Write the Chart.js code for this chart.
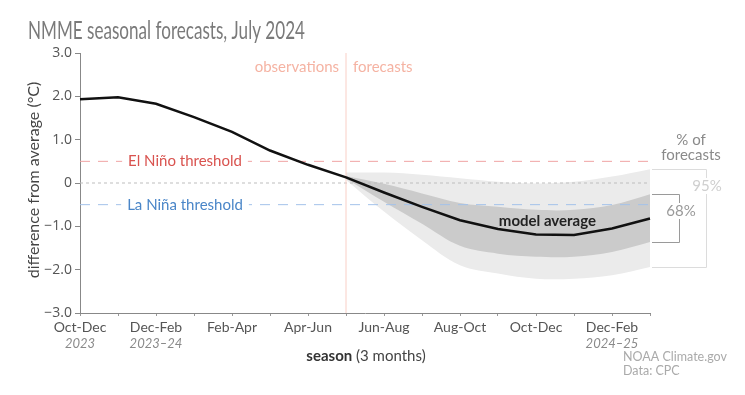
<!DOCTYPE html>
<html>
<head>
<meta charset="utf-8">
<script src="https://cdn.jsdelivr.net/npm/chart.js@4.4.1/dist/chart.umd.min.js"></script>
<style>
  html, body { margin: 0; padding: 0; background: #fff; }
  #wrap { width: 745px; height: 395px; position: relative; }
</style>
</head>
<body>
<div id="wrap"><canvas id="nmme" width="745" height="395"></canvas></div>
<script>
// seasons (3-month running), Oct-Dec 2023 .. Jan-Mar 2025
const seasons = ['Oct-Dec', 'Nov-Jan', 'Dec-Feb', 'Jan-Mar', 'Feb-Apr', 'Mar-May', 'Apr-Jun', 'May-Jul',
                 'Jun-Aug', 'Jul-Sep', 'Aug-Oct', 'Sep-Nov', 'Oct-Dec', 'Nov-Jan', 'Dec-Feb', 'Jan-Mar'];
const yearLabels = ['2023', '', '2023–24', '', '', '', '', '', '', '', '', '', '', '', '2024–25', ''];

// observed + model average (°C)
const modelAvg = [1.93, 1.98, 1.83, 1.52, 1.18, 0.75, 0.42, 0.13, -0.22, -0.55, -0.86, -1.06, -1.19, -1.20, -1.05, -0.82];
// spread of forecasts
const upper68 = [null, null, null, null, null, null, null, 0.16, -0.02, -0.24, -0.46, -0.55, -0.62, -0.62, -0.51, -0.26];
const lower68 = [null, null, null, null, null, null, null, 0.10, -0.43, -0.94, -1.45, -1.63, -1.70, -1.70, -1.59, -1.36];
const upper95 = [null, null, null, null, null, null, null, 0.24, 0.24, 0.19, 0.11, 0.03, -0.01, 0.03, 0.15, 0.32];
const lower95 = [null, null, null, null, null, null, null, 0.07, -0.66, -1.32, -1.90, -2.09, -2.21, -2.21, -2.13, -1.94];

const elNino = 0.5;
const laNina = -0.5;
const forecastStart = 7;   // May-Jul, first forecast season

const FONT = 'Lato, "Open Sans", sans-serif';

function fmtY(v) {
    if (v === 0) return '0';
    return (v < 0 ? '\u2212' : '') + Math.abs(v).toFixed(1);
}

// draws everything that isn't a dataset
const extras = {
    id: 'extras',
    afterDatasetDraw(chart, args) {
        if (args.index !== 1) return; // threshold lines go under the average line
        const {ctx, chartArea: a, scales: {x, y}} = chart;
        ctx.save();
        ctx.lineWidth = 1;
        // zero line
        ctx.strokeStyle = '#bdbdbd';
        ctx.setLineDash([3, 3]);
        ctx.beginPath();
        ctx.moveTo(a.left, y.getPixelForValue(0));
        ctx.lineTo(a.right, y.getPixelForValue(0));
        ctx.stroke();
        // thresholds
        ctx.setLineDash([10, 8]);
        ctx.strokeStyle = '#f0a3a3';
        ctx.beginPath();
        ctx.moveTo(a.left, y.getPixelForValue(elNino));
        ctx.lineTo(a.right, y.getPixelForValue(elNino));
        ctx.stroke();
        ctx.strokeStyle = '#a3c2ea';
        ctx.beginPath();
        ctx.moveTo(a.left, y.getPixelForValue(laNina));
        ctx.lineTo(a.right, y.getPixelForValue(laNina));
        ctx.stroke();
        ctx.setLineDash([]);

        // threshold labels on white
        ctx.font = '15px ' + FONT;
        ctx.textAlign = 'center';
        ctx.textBaseline = 'middle';
        const lx = 185;
        [['El Niño threshold', elNino, '#d9534f'], ['La Niña threshold', laNina, '#4a86c8']].forEach(([t, v, c]) => {
            const py = y.getPixelForValue(v);
            const w = ctx.measureText(t).width;
            ctx.fillStyle = '#fff';
            ctx.fillRect(lx - w / 2 - 6, py - 3, w + 12, 6);
            ctx.fillStyle = c;
            ctx.fillText(t, lx, py);
        });

        // observations | forecasts divider
        const vx = x.getPixelForValue(forecastStart);
        ctx.strokeStyle = '#f9cfc6';
        ctx.beginPath();
        ctx.moveTo(vx, a.top);
        ctx.lineTo(vx, a.bottom);
        ctx.stroke();
        ctx.fillStyle = '#f5b3a3';
        ctx.font = '15px ' + FONT;
        ctx.textAlign = 'right';
        ctx.fillText('observations', vx - 7, a.top + 14);
        ctx.textAlign = 'left';
        ctx.fillText('forecasts', vx + 7, a.top + 14);
        ctx.restore();
    },
    afterDraw(chart) {
        const {ctx, chartArea: a, scales: {x, y}} = chart;
        ctx.save();
        // title, squeezed to look like the condensed face of the original
        const title = 'NMME seasonal forecasts, July 2024';
        ctx.fillStyle = '#7a7a7a';
        ctx.font = '25px ' + FONT;
        ctx.textAlign = 'left';
        ctx.textBaseline = 'alphabetic';
        const tw = ctx.measureText(title).width;
        ctx.save();
        ctx.translate(28, 39);
        ctx.scale(277 / tw, 1);
        ctx.fillText(title, 0, 0);
        ctx.restore();

        // model average label
        ctx.fillStyle = '#222';
        ctx.font = 'bold 15px ' + FONT;
        ctx.textAlign = 'center';
        ctx.textBaseline = 'middle';
        ctx.fillText('model average', x.getPixelForValue(12.3), y.getPixelForValue(-0.88));

        // year sub labels
        ctx.font = 'italic 13px ' + FONT;
        ctx.fillStyle = '#8a8a8a';
        yearLabels.forEach((t, i) => {
            if (t) ctx.fillText(t, x.getPixelForValue(i), a.bottom + 31);
        });

        // x axis title
        ctx.font = 'bold 15px ' + FONT;
        const b = 'season';
        const r = ' (3 months)';
        const wb = ctx.measureText(b).width;
        ctx.font = '15px ' + FONT;
        const wr = ctx.measureText(r).width;
        const sx = 366 - (wb + wr) / 2;
        ctx.textAlign = 'left';
        ctx.fillStyle = '#333';
        ctx.font = 'bold 15px ' + FONT;
        ctx.fillText(b, sx, 356);
        ctx.fillStyle = '#444';
        ctx.font = '15px ' + FONT;
        ctx.fillText(r, sx + wb, 356);

        // y axis title
        ctx.save();
        ctx.translate(34, 180);
        ctx.rotate(-Math.PI / 2);
        ctx.textAlign = 'center';
        ctx.fillStyle = '#444';
        ctx.font = '16px ' + FONT;
        ctx.fillText('difference from average (°C)', 0, 0);
        ctx.restore();

        // credits
        ctx.fillStyle = '#aaa';
        ctx.font = '12.5px ' + FONT;
        ctx.textAlign = 'left';
        ctx.fillText('NOAA Climate.gov', 623, 357);
        ctx.fillText('Data: CPC', 623, 371);

        // right-hand key
        const last = seasons.length - 1;
        const ex = a.right + 2;
        ctx.lineWidth = 1;
        ctx.strokeStyle = '#dcdcdc';
        const t95 = Math.round(y.getPixelForValue(upper95[last])) + 0.5;
        const b95 = Math.round(y.getPixelForValue(lower95[last])) + 0.5;
        ctx.beginPath();
        ctx.moveTo(ex, t95); ctx.lineTo(706.5, t95); ctx.lineTo(706.5, b95); ctx.lineTo(ex, b95);
        ctx.stroke();
        ctx.strokeStyle = '#9a9a9a';
        const t68 = Math.round(y.getPixelForValue(upper68[last])) + 0.5;
        const b68 = Math.round(y.getPixelForValue(lower68[last])) + 0.5;
        ctx.beginPath();
        ctx.moveTo(ex, t68); ctx.lineTo(679.5, t68); ctx.lineTo(679.5, b68); ctx.lineTo(ex, b68);
        ctx.stroke();

        ctx.font = '15px ' + FONT;
        ctx.textAlign = 'center';
        ctx.fillStyle = '#fff';
        ctx.fillRect(665, 203, 32, 16);
        ctx.fillStyle = '#999';
        ctx.fillText('68%', 681, 211);
        ctx.fillStyle = '#fff';
        ctx.fillRect(692, 178, 32, 16);
        ctx.fillStyle = '#cfcfcf';
        ctx.fillText('95%', 707, 186);

        ctx.fillStyle = '#8a8a8a';
        ctx.fillText('% of', 691, 140);
        ctx.fillText('forecasts', 691, 155);
        ctx.restore();
    }
};

const ctx = document.getElementById('nmme').getContext('2d');

new Chart(ctx, {
    type: 'line',
    data: {
        labels: seasons,
        datasets: [
            {
                label: 'model average',
                data: modelAvg,
                borderColor: '#111',
                borderWidth: 2.5,
                pointRadius: 0,
                fill: false,
                tension: 0
            },
            {
                label: '68% upper',
                data: upper68,
                borderWidth: 0,
                borderColor: 'rgba(0,0,0,0)',
                pointRadius: 0,
                fill: false,
                tension: 0.35
            },
            {
                label: '68% lower',
                data: lower68,
                borderWidth: 0,
                borderColor: 'rgba(0,0,0,0)',
                backgroundColor: '#cbcbcb',
                pointRadius: 0,
                fill: '-1',
                tension: 0.35
            },
            {
                label: '95% upper',
                data: upper95,
                borderWidth: 0,
                borderColor: 'rgba(0,0,0,0)',
                pointRadius: 0,
                fill: false,
                tension: 0.35
            },
            {
                label: '95% lower',
                data: lower95,
                borderWidth: 0,
                borderColor: 'rgba(0,0,0,0)',
                backgroundColor: '#ebebeb',
                pointRadius: 0,
                fill: '-1',
                tension: 0.35
            }
        ]
    },
    options: {
        responsive: false,
        animation: false,
        layout: { padding: { left: 0, top: 53, right: 95, bottom: 0 } },
        plugins: {
            legend: { display: false },
            tooltip: { enabled: false },
            filler: { propagate: false }
        },
        scales: {
            x: {
                offset: false,
                grid: { drawOnChartArea: false, drawTicks: true, tickLength: 3, color: '#999' },
                border: { color: '#888', width: 1 },
                ticks: {
                    autoSkip: false,
                    maxRotation: 0,
                    padding: 3,
                    color: '#555',
                    font: { family: FONT, size: 14 },
                    callback: (v, i) => (i % 2 === 0 && i < seasons.length - 1) ? seasons[i] : ''
                },
                afterFit: s => { s.height = 82; }
            },
            y: {
                min: -3,
                max: 3,
                grid: { drawOnChartArea: false, drawTicks: true, tickLength: 5, color: '#888' },
                border: { color: '#888', width: 1 },
                ticks: {
                    stepSize: 1,
                    padding: 3,
                    color: '#555',
                    font: { family: '"Open Sans", Lato, sans-serif', size: 14 },
                    callback: v => fmtY(v)
                },
                afterFit: s => { s.width = 80; }
            }
        }
    },
    plugins: [extras]
});
</script>
</body>
</html>
